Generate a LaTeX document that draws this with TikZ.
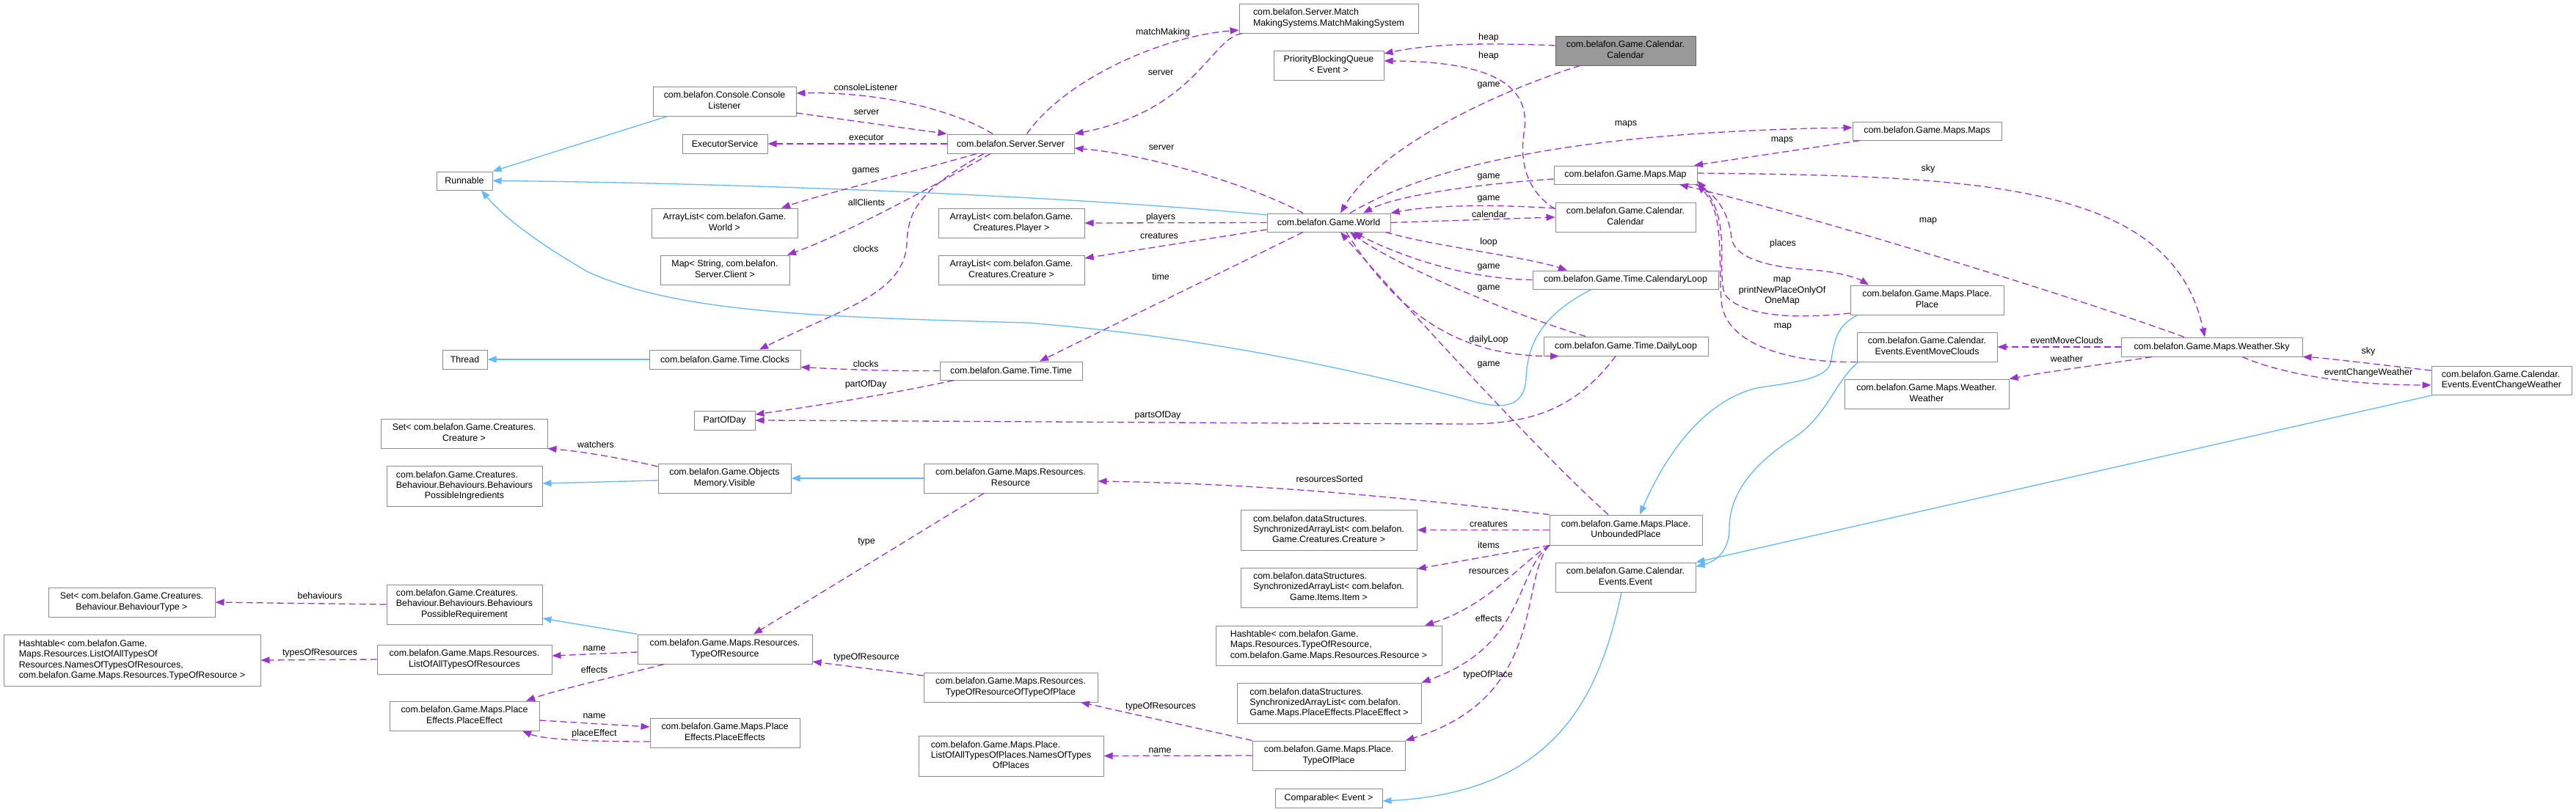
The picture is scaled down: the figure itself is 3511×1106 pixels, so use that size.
\documentclass[tikz,border=0pt]{standalone}
\usepackage{fontspec}
\setmainfont{Liberation Sans}
\usetikzlibrary{arrows.meta}
\definecolor{dcol}{HTML}{9A32CD}
\definecolor{icol}{HTML}{63B8FF}
\definecolor{bcol}{HTML}{8C8C8C}
\definecolor{mfill}{HTML}{999999}
\definecolor{mbord}{HTML}{666666}
\newcommand{\dxf}{\fontsize{12.4}{14.3}\selectfont}
\newcommand{\dxml}[1]{\begin{tabular}{@{}l@{}}#1\end{tabular}}
\newcommand{\dxlc}[1]{\multicolumn{1}{@{}c@{}}{#1}}
\begin{document}
\begin{tikzpicture}[x=1pt,y=-1pt,
  box/.style={draw=bcol, fill=white, line width=1pt, inner sep=0pt, font=\dxf},
  mainbox/.style={box, draw=mbord, fill=mfill},
  sz/.style 2 args={minimum width=#1, minimum height=#2},
  dep/.style={draw=dcol, line width=1.3pt, dash pattern=on 9pt off 5pt, -{Triangle[length=12pt,width=9pt]}},
  inh/.style={draw=icol, line width=1.3pt, -{Triangle[length=12pt,width=9pt]}},
  lbl/.style={font=\dxf, inner sep=0pt}]
\fill[white] (0,0) rectangle (3511,1106);
\useasboundingbox (0,0) rectangle (3511,1106);

% ---------- nodes ----------
\node[box,sz={76}{25}] (runnable) at (633,246.5) {Runnable};
\node[box,sz={61}{26}] (thread) at (633.5,490) {Thread};
\node[box,sz={227}{40}] (setcre) at (632.5,591) {\dxml{Set< com.belafon.Game.Creatures.\\\dxlc{Creature >}}};
\node[box,sz={212}{55}] (bpi) at (633,662.5) {\dxml{com.belafon.Game.Creatures.\\Behaviour.Behaviours.Behaviours\\\dxlc{PossibleIngredients}}};
\node[box,sz={227}{40}] (setbt) at (179.5,821) {\dxml{Set< com.belafon.Game.Creatures.\\\dxlc{Behaviour.BehaviourType >}}};
\node[box,sz={212}{54}] (bpr) at (633,824) {\dxml{com.belafon.Game.Creatures.\\Behaviour.Behaviours.Behaviours\\\dxlc{PossibleRequirement}}};
\node[box,sz={350}{70}] (htlist) at (180,900) {\dxml{Hashtable< com.belafon.Game.\\Maps.Resources.ListOfAllTypesOf\\Resources.NamesOfTypesOfResources,\\\dxlc{com.belafon.Game.Maps.Resources.TypeOfResource >}}};
\node[box,sz={238}{40}] (loatr) at (633,899) {\dxml{com.belafon.Game.Maps.Resources.\\\dxlc{ListOfAllTypesOfResources}}};
\node[box,sz={204}{40}] (peff) at (633,976) {\dxml{com.belafon.Game.Maps.Place\\\dxlc{Effects.PlaceEffect}}};
\node[box,sz={195}{40}] (console) at (987.5,138) {\dxml{com.belafon.Console.Console\\\dxlc{Listener}}};
\node[box,sz={116}{26}] (exec) at (988,196) {ExecutorService};
\node[box,sz={173}{26}] (server) at (1377.5,196) {com.belafon.Server.Server};
\node[box,sz={199}{40}] (alworld) at (987.5,304) {\dxml{ArrayList< com.belafon.Game.\\\dxlc{World >}}};
\node[box,sz={176}{40}] (mapclient) at (988,368) {\dxml{Map< String, com.belafon.\\\dxlc{Server.Client >}}};
\node[box,sz={199}{40}] (alplayer) at (1378.5,304) {\dxml{ArrayList< com.belafon.Game.\\\dxlc{Creatures.Player >}}};
\node[box,sz={199}{40}] (alcreature) at (1378.5,368) {\dxml{ArrayList< com.belafon.Game.\\\dxlc{Creatures.Creature >}}};
\node[box,sz={206}{26}] (clocks) at (988,490) {com.belafon.Game.Time.Clocks};
\node[box,sz={194}{25}] (time) at (1378,505.5) {com.belafon.Game.Time.Time};
\node[box,sz={83}{26}] (partofday) at (987.5,573) {PartOfDay};
\node[box,sz={181}{40}] (visible) at (987.5,652) {\dxml{com.belafon.Game.Objects\\\dxlc{Memory.Visible}}};
\node[box,sz={237}{40}] (resource) at (1377.5,652) {\dxml{com.belafon.Game.Maps.Resources.\\\dxlc{Resource}}};
\node[box,sz={238}{40}] (tor) at (988,885) {\dxml{com.belafon.Game.Maps.Resources.\\\dxlc{TypeOfResource}}};
\node[box,sz={237}{40}] (torotop) at (1377.5,937) {\dxml{com.belafon.Game.Maps.Resources.\\\dxlc{TypeOfResourceOfTypeOfPlace}}};
\node[box,sz={204}{40}] (peffs) at (988,999) {\dxml{com.belafon.Game.Maps.Place\\\dxlc{Effects.PlaceEffects}}};
\node[box,sz={252}{55}] (names) at (1378,1030.5) {\dxml{com.belafon.Game.Maps.Place.\\ListOfAllTypesOfPlaces.NamesOfTypes\\\dxlc{OfPlaces}}};
\node[box,sz={244}{40}] (mms) at (1811,25) {\dxml{com.belafon.Server.Match\\\dxlc{MakingSystems.MatchMakingSystem}}};
\node[box,sz={150}{40}] (pbq) at (1811,89) {\dxml{PriorityBlockingQueue\\\dxlc{< Event >}}};
\node[mainbox,sz={191}{40}] (calg) at (2215.5,69) {\dxml{com.belafon.Game.Calendar.\\\dxlc{Calendar}}};
\node[box,sz={168}{25}] (world) at (1811,303.5) {com.belafon.Game.World};
\node[box,sz={195}{25}] (map) at (2215.5,238.5) {com.belafon.Game.Maps.Map};
\node[box,sz={191}{40}] (cal) at (2215.5,296) {\dxml{com.belafon.Game.Calendar.\\\dxlc{Calendar}}};
\node[box,sz={253}{25}] (cloop) at (2215.5,381.5) {com.belafon.Game.Time.CalendaryLoop};
\node[box,sz={224}{26}] (dloop) at (2216,472) {com.belafon.Game.Time.DailyLoop};
\node[box,sz={208}{41}] (up) at (2216,722.5) {\dxml{com.belafon.Game.Maps.Place.\\\dxlc{UnboundedPlace}}};
\node[box,sz={191}{40}] (event) at (2215.5,787) {\dxml{com.belafon.Game.Calendar.\\\dxlc{Events.Event}}};
\node[box,sz={240}{55}] (salc) at (1811,722.5) {\dxml{com.belafon.dataStructures.\\SynchronizedArrayList< com.belafon.\\\dxlc{Game.Creatures.Creature >}}};
\node[box,sz={240}{54}] (sali) at (1811,801) {\dxml{com.belafon.dataStructures.\\SynchronizedArrayList< com.belafon.\\\dxlc{Game.Items.Item >}}};
\node[box,sz={308}{54}] (htres) at (1811,880) {\dxml{Hashtable< com.belafon.Game.\\Maps.Resources.TypeOfResource,\\\dxlc{com.belafon.Game.Maps.Resources.Resource >}}};
\node[box,sz={251}{55}] (salp) at (1811.5,958.5) {\dxml{com.belafon.dataStructures.\\SynchronizedArrayList< com.belafon.\\\dxlc{Game.Maps.PlaceEffects.PlaceEffect >}}};
\node[box,sz={208}{40}] (top) at (1811,1030) {\dxml{com.belafon.Game.Maps.Place.\\\dxlc{TypeOfPlace}}};
\node[box,sz={146}{26}] (comparable) at (1811,1088) {Comparable< Event >};
\node[box,sz={203}{25}] (maps) at (2626.5,178.5) {com.belafon.Game.Maps.Maps};
\node[box,sz={209}{40}] (place) at (2626.5,409) {\dxml{com.belafon.Game.Maps.Place.\\\dxlc{Place}}};
\node[box,sz={191}{40}] (emc) at (2626.5,473) {\dxml{com.belafon.Game.Calendar.\\\dxlc{Events.EventMoveClouds}}};
\node[box,sz={224}{40}] (weather) at (2626,537) {\dxml{com.belafon.Game.Maps.Weather.\\\dxlc{Weather}}};
\node[box,sz={247}{26}] (sky) at (3014.5,473) {com.belafon.Game.Maps.Weather.Sky};
\node[box,sz={191}{39}] (ecw) at (3409.5,518.5) {\dxml{com.belafon.Game.Calendar.\\\dxlc{Events.EventChangeWeather}}};

% ---------- inheritance (blue) ----------
\draw[inh] ([xshift=-77.5pt]console.south) -- (runnable.north east);
\draw[inh] ([yshift=10.5pt]world.west) .. controls (1400,262) and (900,248) .. (runnable.east);
\draw[inh] ([xshift=-46.5pt]cloop.south) .. controls (2100,430) and (2082,470) .. (2080,515)
  .. controls (2078,555) and (2050,560) .. (2000,545)
  .. controls (1850,505) and (1650,460) .. (1400,440)
  .. controls (1100,432) and (920,425) .. (800,370)
  .. controls (740,335) and (690,300) .. ([xshift=23pt]runnable.south);
\draw[inh] (clocks.west) -- (thread.east);
\draw[inh] (resource.west) -- (visible.east);
\draw[inh] ([yshift=-3pt]visible.west) -- ([yshift=3.5pt]bpi.east);
\draw[inh] (tor.north west) -- ([yshift=-19pt]bpr.east);
\draw[inh] ([xshift=-94.5pt]place.south) .. controls (2500,445) and (2500,470) .. (2495,495)
  .. controls (2488,520) and (2430,522) .. (2390,530)
  .. controls (2320,550) and (2270,620) .. ([xshift=19pt]up.north);
\draw[inh] ([xshift=-93.5pt]emc.south) .. controls (2500,520) and (2490,570) .. (2440,600)
  .. controls (2380,640) and (2357,680) .. (2357,720)
  .. controls (2357,750) and (2340,765) .. ([yshift=-6pt]event.north east);
\draw[inh] ([xshift=3pt]ecw.south west) -- (event.north east);
\draw[inh] ([xshift=-5.5pt]event.south) .. controls (2180,950) and (2120,1080) .. ([yshift=-4pt]comparable.east);

% ---------- usage (purple dashed) ----------
\draw[dep] ([xshift=22pt]server.north) .. controls (1450,110) and (1580,50) .. ([yshift=-16pt]mms.west);
\draw[dep] ([xshift=-118pt]mms.south) .. controls (1650,52) and (1630,150) .. (server.north east);
\draw[dep] ([xshift=-35pt]world.north) .. controls (1700,250) and (1560,210) .. ([yshift=-6pt]server.east);
\draw[dep] ([xshift=-24.5pt]server.north) .. controls (1300,150) and (1200,125) .. ([yshift=11pt]console.east);
\draw[dep] ([yshift=-16pt]console.east) -- (server.north west);
\draw[dep] (server.west) -- (exec.east);
\draw[dep] ([xshift=-46.5pt]server.south) .. controls (1290,222) and (1120,265) .. ([xshift=77.5pt]alworld.north);
\draw[dep] ([xshift=-27.5pt]server.south) .. controls (1280,250) and (1150,320) .. ([xshift=85pt]mapclient.north);
\draw[dep] ([xshift=-36.5pt]server.south) .. controls (1250,260) and (1238,290) .. (1236,330)
  .. controls (1234,400) and (1150,420) .. ([xshift=47pt]clocks.north);
\draw[dep] (time.west) .. controls (1200,506) and (1140,503) .. ([yshift=3pt]clocks.south east);
\draw[dep] ([xshift=-78pt]time.south) .. controls (1200,540) and (1100,555) .. ([yshift=8pt]partofday.east);
\draw[dep] (world.west) -- (alplayer.east);
\draw[dep] ([yshift=-9.5pt]world.west) -- ([yshift=16pt]alcreature.east);
\draw[dep] ([xshift=-35pt]world.south) -- ([xshift=39pt]time.north);
\draw[dep] ([xshift=-62pt]calg.south) .. controls (2040,125) and (1880,200) .. ([xshift=16pt]world.north);
\draw[dep] ([yshift=7pt]calg.west) .. controls (2000,57) and (1940,62) .. ([yshift=16pt]pbq.east);
\draw[dep] ([yshift=11pt]cal.west) .. controls (2080,260) and (2070,220) .. (2078,175)
  .. controls (2085,110) and (2020,84) .. ([yshift=6pt]pbq.east);
\draw[dep] ([xshift=29pt]world.north) .. controls (1950,225) and (2150,180) .. ([yshift=4.5pt]maps.west);
\draw[dep] ([xshift=-91.5pt]maps.south) -- ([xshift=93.5pt]map.north);
\draw[dep] ([yshift=-5.5pt]map.west) .. controls (2000,252) and (1900,268) .. ([xshift=47pt]world.north);
\draw[dep] ([yshift=12pt]cal.west) .. controls (2030,278) and (1950,280) .. (world.north east);
\draw[dep] (world.east) -- (cal.west);
\draw[dep] ([xshift=-7pt]world.south east) .. controls (1950,335) and (2080,350) .. ([xshift=-79.5pt]cloop.north);
\draw[dep] (cloop.west) .. controls (1990,380) and (1900,345) .. ([xshift=34pt]world.south);
\draw[dep] ([xshift=-55pt]dloop.north) .. controls (2050,425) and (1900,360) .. ([xshift=29pt]world.south);
\draw[dep] ([xshift=24pt]world.south) .. controls (1900,420) and (1980,486) .. ([xshift=-91pt]dloop.south);
\draw[dep] ([xshift=-24pt]up.north) .. controls (2100,620) and (1900,400) .. ([xshift=16pt]world.south);
\draw[dep] ([xshift=-14pt]dloop.south) .. controls (2150,555) and (2090,578) .. (2000,578)
  .. controls (1700,577) and (1300,574) .. (partofday.east);
\draw[dep] ([yshift=2.5pt]map.east) .. controls (2700,240) and (2960,250) .. ([xshift=-9.5pt]sky.north);
\draw[dep] ([xshift=-37.5pt]sky.north) .. controls (2800,395) and (2450,290) .. ([xshift=73.5pt]map.south);
\draw[dep] ([xshift=-3pt]map.south east) .. controls (2345,265) and (2358,300) .. (2360,325)
  .. controls (2365,355) and (2420,365) .. (2470,368)
  .. controls (2500,370) and (2530,378) .. ([xshift=-79.5pt]place.north);
\draw[dep] ([yshift=-18pt]place.west) .. controls (2440,436) and (2370,430) .. (2350,400)
  .. controls (2340,360) and (2360,300) .. ([yshift=-8pt]map.east);
\draw[dep] (emc.south west) .. controls (2440,495) and (2350,470) .. (2346,410)
  .. controls (2342,350) and (2350,290) .. (map.south east);
\draw[dep] (sky.west) -- (emc.east);
\draw[dep] ([xshift=-81.5pt]sky.south) .. controls (2880,495) and (2800,505) .. (weather.north east);
\draw[dep] ([xshift=41.5pt]sky.south) .. controls (3110,510) and (3200,525) .. ([yshift=-6.5pt]ecw.west);
\draw[dep] ([yshift=13.5pt]ecw.west) .. controls (3240,497) and (3170,488) .. (sky.south east);
\draw[dep] ([yshift=16pt]visible.west) .. controls (850,625) and (790,615) .. (setcre.south east);
\draw[dep] (bpr.west) -- (setbt.east);
\draw[dep] (loatr.west) -- (htlist.east);
\draw[dep] ([yshift=-4pt]tor.west) -- ([yshift=5pt]loatr.east);
\draw[dep] ([xshift=-83pt]tor.south) .. controls (850,920) and (760,940) .. ([xshift=84pt]peff.north);
\draw[dep] ([yshift=-6pt]peff.east) -- ([yshift=8pt]peffs.west);
\draw[dep] ([yshift=-12pt]peffs.west) .. controls (800,1011) and (740,1008) .. ([xshift=79pt]peff.south);
\draw[dep] ([xshift=-36.5pt]resource.south) -- ([xshift=39pt]tor.north);
\draw[dep] ([yshift=16pt]torotop.west) -- ([yshift=-17pt]tor.east);
\draw[dep] (top.north west) -- ([xshift=95.5pt]torotop.south);
\draw[dep] (top.west) -- (names.east);
\draw[dep] (up.north west) .. controls (1950,683) and (1750,660) .. ([yshift=-4pt]resource.east);
\draw[dep] (up.west) -- (salc.east);
\draw[dep] (up.south west) -- ([yshift=-2pt]sali.north east);
\draw[dep] (up.south west) .. controls (2075,765) and (2030,825) .. ([xshift=131pt]htres.north);
\draw[dep] (up.south west) .. controls (2065,780) and (2080,880) .. (salp.north east);
\draw[dep] (up.south west) .. controls (2070,790) and (2110,950) .. (top.north east);

% ---------- labels ----------
\node[lbl] (l1) at (1585,44) {matchMaking};
\node[lbl] (l2) at (1582,99) {server};
\node[lbl] (l3) at (1583,201) {server};
\node[lbl] (l4) at (1180,119) {consoleListener};
\node[lbl] (l5) at (1181,153) {server};
\node[lbl] (l6) at (1181,188) {executor};
\node[lbl] (l7) at (1180,233) {games};
\node[lbl] (l8) at (1181,276) {allClients};
\node[lbl] (l9) at (1180,339) {clocks};
\node[lbl] (l10) at (1180,496) {clocks};
\node[lbl] (l11) at (1180,524) {partOfDay};
\node[lbl] (l12) at (1582,296) {players};
\node[lbl] (l13) at (1580,322) {creatures};
\node[lbl] (l14) at (1582,377) {time};
\node[lbl] (l15) at (2029,116) {game};
\node[lbl] (l16) at (2029,51) {heap};
\node[lbl] (l17) at (2029,76) {heap};
\node[lbl] (l18) at (2216,169) {maps};
\node[lbl] (l19) at (2429,191) {maps};
\node[lbl] (l20) at (2029,241) {game};
\node[lbl] (l21) at (2029,271) {game};
\node[lbl] (l22) at (2030,292) {calendar};
\node[lbl] (l23) at (2029,330) {loop};
\node[lbl] (l24) at (2029,364) {game};
\node[lbl] (l25) at (2029,393) {game};
\node[lbl] (l26) at (2029,463) {dailyLoop};
\node[lbl] (l27) at (2029,497) {game};
\node[lbl] (l28) at (1578,566) {partsOfDay};
\node[lbl] (l29) at (2628,230) {sky};
\node[lbl] (l30) at (2628,301) {map};
\node[lbl] (l31) at (2430,332) {places};
\node[lbl, align=center] (l32) at (2429,397) {map\\printNewPlaceOnlyOf\\OneMap};
\node[lbl] (l33) at (2430,445) {map};
\node[lbl] (l34) at (2817,464) {eventMoveClouds};
\node[lbl] (l35) at (2817,489) {weather};
\node[lbl] (l36) at (3228,508) {eventChangeWeather};
\node[lbl] (l37) at (3228,479) {sky};
\node[lbl] (l38) at (812,606) {watchers};
\node[lbl] (l39) at (436,812) {behaviours};
\node[lbl] (l40) at (436,890) {typesOfResources};
\node[lbl] (l41) at (810,884) {name};
\node[lbl] (l42) at (810,913) {effects};
\node[lbl] (l43) at (810,976) {name};
\node[lbl] (l44) at (810,1000) {placeEffect};
\node[lbl] (l45) at (1181,739) {type};
\node[lbl] (l46) at (1181,896) {typeOfResource};
\node[lbl] (l47) at (1582,963) {typeOfResources};
\node[lbl] (l48) at (1581,1023) {name};
\node[lbl] (l49) at (1812,653) {resourcesSorted};
\node[lbl] (l50) at (2029,715) {creatures};
\node[lbl] (l51) at (2029,743) {items};
\node[lbl] (l52) at (2029,779) {resources};
\node[lbl] (l53) at (2029,843) {effects};
\node[lbl] (l54) at (2028,920) {typeOfPlace};
\end{tikzpicture}
\end{document}
